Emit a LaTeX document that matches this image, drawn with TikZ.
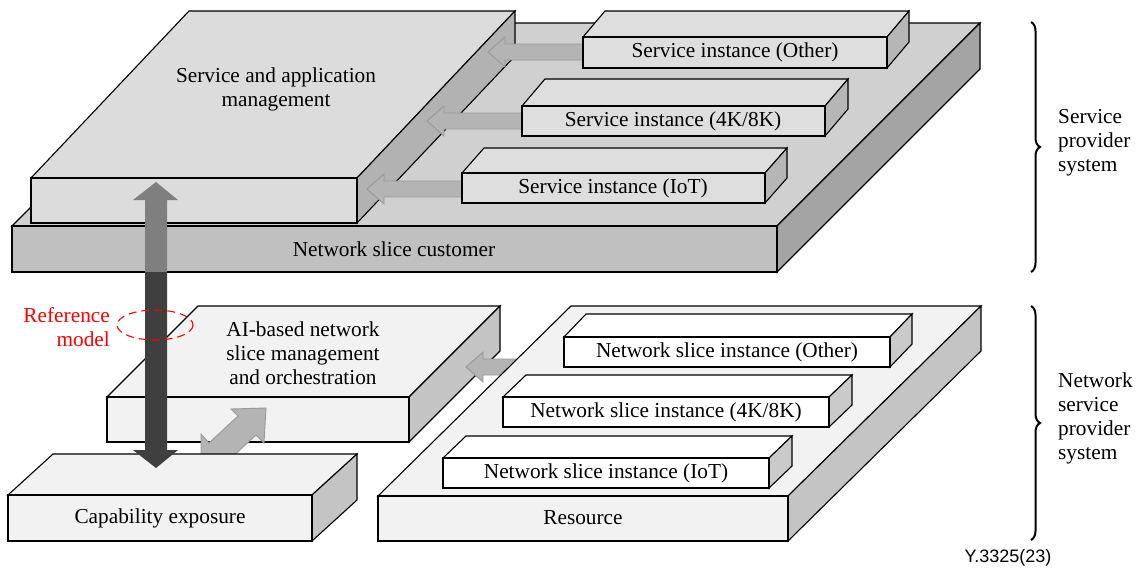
\documentclass[tikz,border=0pt]{standalone}
\usepackage{fontspec}
\setmainfont{Liberation Serif}
\newfontfamily\arialf{Liberation Sans}
\usetikzlibrary{decorations.pathreplacing}

\definecolor{nsctop}{HTML}{D0D0D0}
\definecolor{nscfront}{HTML}{C0C0C0}
\definecolor{nscside}{HTML}{A4A4A4}
\definecolor{samface}{HTML}{DCDCDC}
\definecolor{samside}{HTML}{B2B2B2}
\definecolor{siface}{HTML}{DEDEDE}
\definecolor{siside}{HTML}{B6B6B6}
\definecolor{lowface}{HTML}{F2F2F2}
\definecolor{lowside}{HTML}{C4C4C4}
\definecolor{nsiside}{HTML}{CACACA}
\definecolor{arrfill}{HTML}{B4B4B4}
\definecolor{arredge}{HTML}{999999}
\definecolor{uparr}{HTML}{7F7F7F}
\definecolor{downarr}{HTML}{3F3F3F}

\newcommand{\slab}[9]{%
 \filldraw[edge,fill=#8] (#1,#2) -- ({#1+#5},{#2-#6}) -- ({#3+#5},{#2-#6}) -- (#3,#2) -- cycle;
 \filldraw[edge,fill=#9] (#3,#2) -- ({#3+#5},{#2-#6}) -- ({#3+#5},{#4-#6}) -- (#3,#4) -- cycle;
 \filldraw[edge,fill=#7] (#1,#2) rectangle (#3,#4);
}
% left block arrow: tip x, axis y, tail x
\newcommand{\larrow}[3]{%
 \filldraw[blockarr] (#1,#2) -- ({#1+17},{#2-15}) -- ({#1+17},{#2-8}) -- (#3,{#2-8}) -- (#3,{#2+8}) -- ({#1+17},{#2+8}) -- ({#1+17},{#2+15}) -- cycle;
}

\tikzset{
 edge/.style={draw=black, line width=1.1pt, line join=miter},
 blockarr/.style={fill=arrfill, draw=arredge, line width=0.9pt, line join=miter},
 lbl/.style={font=\fontsize{21.3}{24}\selectfont, align=center, inner sep=0pt},
 sidelbl/.style={font=\fontsize{21.3}{24}\selectfont, align=left, inner sep=0pt, anchor=west},
 bracestyle/.style={decorate, decoration={brace, amplitude=9pt}, line width=2pt},
}

\begin{document}
\begin{tikzpicture}[x=1pt, y=-1pt]
\useasboundingbox (0,0) rectangle (1138,568);
\fill[white] (0,0) rectangle (1138,568);

% ---------- upper layer ----------
\slab{12}{226}{777}{272}{203}{203}{nscfront}{nsctop}{nscside}
\slab{31}{178}{357}{223}{158}{167}{samface}{samface}{samside}

\larrow{488}{52}{590}
\larrow{427}{121}{529}
\larrow{367}{189}{469}

\slab{583}{37}{887}{68}{22}{26}{siface}{siface}{siside}
\slab{522}{106}{825}{136}{23}{27}{siface}{siface}{siside}
\slab{462}{173}{765}{203}{22}{25}{siface}{siface}{siside}

% ---------- lower layer ----------
\slab{107}{397}{409}{442}{91}{91}{lowface}{lowface}{lowside}
\larrow{466}{367}{530}
\slab{378}{496}{788}{541}{193}{190}{lowface}{lowface}{lowside}
\slab{564}{337}{890}{367}{22}{23}{white}{white}{nsiside}
\slab{503}{397}{829}{427}{23}{22}{white}{white}{nsiside}
\slab{443}{458}{769}{488}{23}{22}{white}{white}{nsiside}

% diagonal double arrow
\filldraw[blockarr] (266,408) -- (231,409) -- (238,416) -- (209,443) -- (201,434)
  -- (201,470) -- (236,470) -- (228,461) -- (256,435) -- (264,443) -- cycle;

\slab{8}{495}{312}{541}{45}{41}{lowface}{lowface}{lowside}

% vertical arrow
\fill[uparr] (156,182) -- (178,200) -- (167,200) -- (167,272) -- (145,272) -- (145,200) -- (133,200) -- cycle;
\fill[downarr] (145,272) -- (167,272) -- (167,450) -- (178,450) -- (156,468) -- (133,450) -- (145,450) -- cycle;

% reference model marker
\draw[red, line width=1.1pt, dash pattern=on 8pt off 5pt] (155,325) ellipse [x radius=38, y radius=15];
\node[lbl, align=right, anchor=east, text=red] (refm) at (110,327) {Reference\\model};

% labels
\node[lbl] (sam) at (276,89) {Service and application\\management};
\node[lbl] (nsc) at (394,249) {Network slice customer};
\node[lbl] (sio) at (735,52) {Service instance (Other)};
\node[lbl] (si4) at (673,121) {Service instance (4K/8K)};
\node[lbl] (sii) at (613,188) {Service instance (IoT)};
\node[lbl] (ai) at (303,353) {AI-based network\\slice management\\and orchestration};
\node[lbl] (nsio) at (727,352) {Network slice instance (Other)};
\node[lbl] (nsi4) at (666,412) {Network slice instance (4K/8K)};
\node[lbl] (nsii) at (606,473) {Network slice instance (IoT)};
\node[lbl] (cap) at (160,518) {Capability exposure};
\node[lbl] (res) at (583,518) {Resource};

% braces
\coordinate (b1t) at (1031,22);
\coordinate (b1b) at (1031,272);
\coordinate (b2t) at (1031,306);
\coordinate (b2b) at (1031,540);
\draw[bracestyle] (b1t) -- (b1b);
\draw[bracestyle] (b2t) -- (b2b);
\node[sidelbl] (sps) at (1058,143) {Service\\provider\\system};
\node[sidelbl] (nsps) at (1058,418) {Network\\service\\provider\\system};

\node[font=\arialf\fontsize{18}{20}\selectfont, inner sep=0pt] (fig) at (1008,558) {Y.3325(23)};
\end{tikzpicture}
\end{document}
